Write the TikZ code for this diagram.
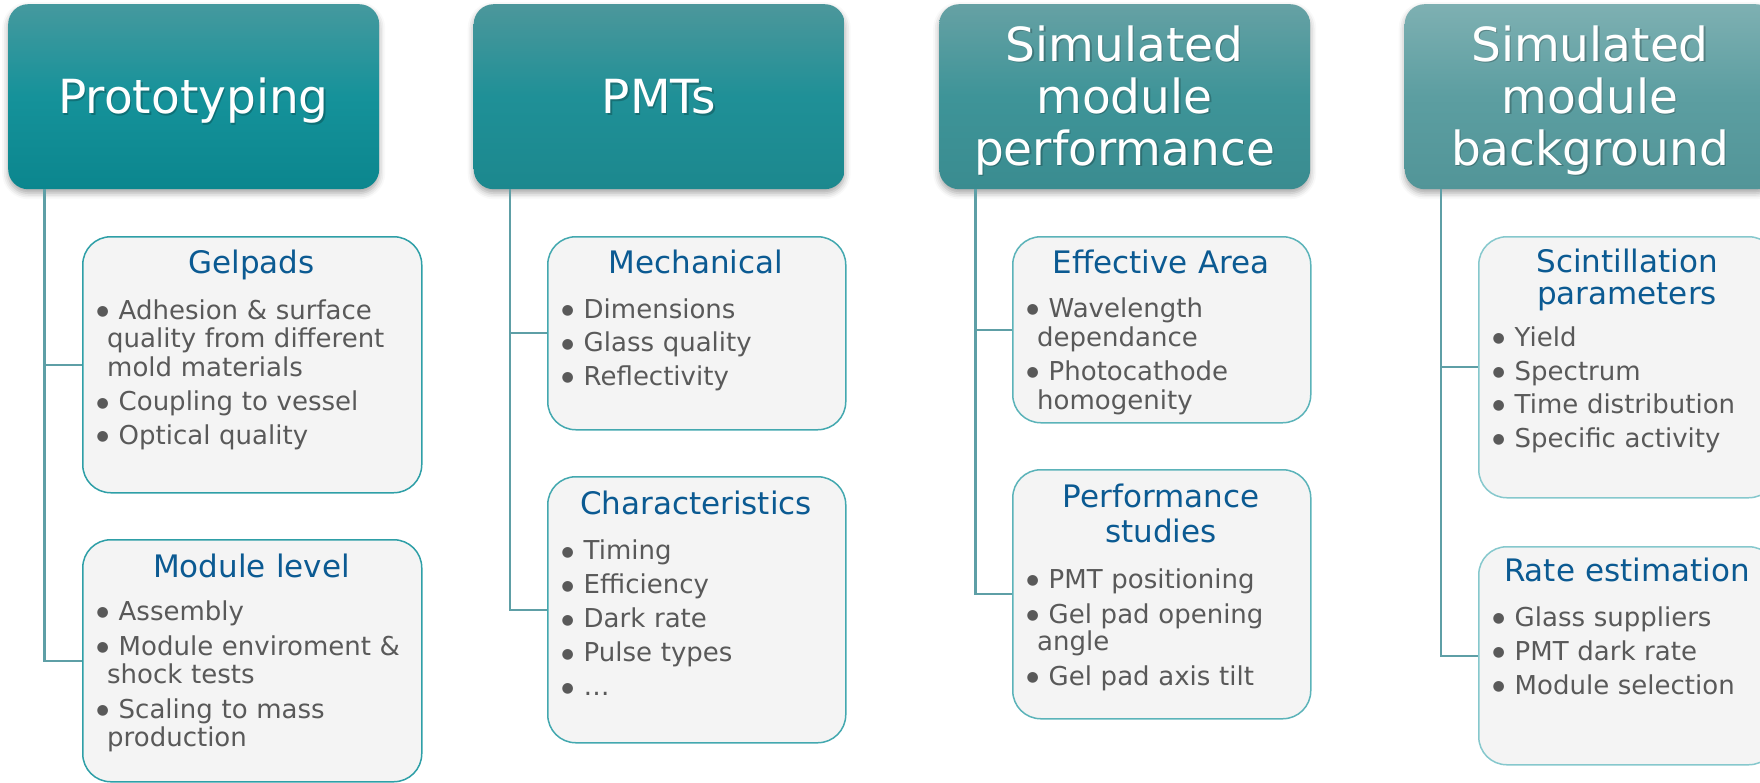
\documentclass[tikz,border=0pt]{standalone}
\usepackage{fontspec}
\setmainfont{DejaVu Sans}
\usetikzlibrary{calc,shadows.blur}

\definecolor{bodygray}{HTML}{595959}
\definecolor{headblue}{HTML}{0B5A92}
\definecolor{linkteal}{HTML}{5E9FA6}
\definecolor{panelbg}{HTML}{F4F4F4}
\definecolor{edgeA}{HTML}{2E9FA7}
\definecolor{edgeB}{HTML}{43A8AF}
\definecolor{edgeC}{HTML}{5BB3B9}
\definecolor{edgeD}{HTML}{86C8CD}
% header gradients, one set per column
\definecolor{hAtop}{HTML}{45999E}\definecolor{hAmid}{HTML}{15929A}\definecolor{hAbot}{HTML}{0B868E}
\definecolor{hBtop}{HTML}{4C979B}\definecolor{hBmid}{HTML}{1F9097}\definecolor{hBbot}{HTML}{1C888E}
\definecolor{hCtop}{HTML}{66A1A4}\definecolor{hCmid}{HTML}{3E9498}\definecolor{hCbot}{HTML}{3A8C90}
\definecolor{hDtop}{HTML}{7EB0B2}\definecolor{hDmid}{HTML}{5C9EA1}\definecolor{hDbot}{HTML}{529598}

% bullet and hanging indent for list items
\newcommand\bul{\makebox[22pt][l]{\raisebox{3.8pt}{\fontsize{14}{14}\selectfont ●}}}
\newcommand\cont{\hspace*{10.5pt}}

\begin{document}
\begin{tikzpicture}[x=1pt,y=-1pt,
  header/.style={rectangle, rounded corners=20pt, minimum width=371pt,
     minimum height=185pt, inner sep=0pt, anchor=north west, draw=none,
     blur shadow={shadow xshift=0pt, shadow yshift=-4pt,
       shadow blur radius=6pt, shadow opacity=35}},
  headtext/.style={text=white, font=\fontsize{47}{52}\selectfont,
     align=center, text width=371pt, inner sep=0pt, anchor=base},
  headshade/.style={headtext, text=black, text opacity=0.22},
  panel/.style={rectangle, rounded corners=28pt, fill=panelbg,
     line width=1.5pt, inner sep=0pt, anchor=north west},
  paneltitle/.style={text=headblue, font=\fontsize{31}{33}\selectfont,
     align=center, text width=298pt, inner sep=0pt, anchor=base},
  panelbody/.style={text=bodygray, font=\fontsize{26}{28.5}\selectfont,
     align=left, text width=400pt, inner sep=0pt, anchor=base west},
  link/.style={draw=linkteal, line width=2.2pt}
]
\useasboundingbox (0,0) rectangle (1760,782);

% ---------- column headers ----------
\node[header, top color=hAtop, bottom color=hAbot, middle color=hAmid] (h1) at (8,4) {};
\node[header, top color=hBtop, bottom color=hBbot, middle color=hBmid] (h2) at (473.5,4) {};
\node[header, top color=hCtop, bottom color=hCbot, middle color=hCmid] (h3) at (939,4) {};
\node[header, top color=hDtop, bottom color=hDbot, middle color=hDmid] (h4) at (1404.5,4) {};

% soft text shadow under the header labels
\node[headshade] (h1s) at (195,115) {Prototyping};
\node[headshade] (h2s) at (660.5,115) {PMTs};
\node[headshade] (h3s) at (1126,62.5) {Simulated\\module\\performance};
\node[headshade] (h4s) at (1591.5,62.5) {Simulated\\module\\background};

\node[headtext] (h1t) at (193.5,113.3) {Prototyping};
\node[headtext] (h2t) at (659,113.3) {PMTs};
\node[headtext] (h3t) at (1124.5,61) {Simulated\\module\\performance};
\node[headtext] (h4t) at (1590,61) {Simulated\\module\\background};

% ---------- panels ----------
\node[panel, draw=edgeA, minimum width=339pt, minimum height=256pt] (p11) at (82,236) {};
\node[panel, draw=edgeA, minimum width=339pt, minimum height=242pt] (p12) at (82,539) {};
\node[panel, draw=edgeB, minimum width=298pt, minimum height=193pt] (p21) at (547,236) {};
\node[panel, draw=edgeB, minimum width=298pt, minimum height=266pt] (p22) at (547,476) {};
\node[panel, draw=edgeC, minimum width=298pt, minimum height=186pt] (p31) at (1012,236) {};
\node[panel, draw=edgeC, minimum width=298pt, minimum height=249pt] (p32) at (1012,469) {};
\node[panel, draw=edgeD, minimum width=298pt, minimum height=261pt] (p41) at (1478,236) {};
\node[panel, draw=edgeD, minimum width=298pt, minimum height=218pt] (p42) at (1478,546) {};

% ---------- connectors ----------
\draw[link] ($(h1.south west)+(36.5,0)$) |- (p11.west);
\draw[link] ($(h1.south west)+(36.5,0)$) |- (p12.west);
\draw[link] ($(h2.south west)+(36.5,0)$) |- (p21.west);
\draw[link] ($(h2.south west)+(36.5,0)$) |- (p22.west);
\draw[link] ($(h3.south west)+(36.5,0)$) |- (p31.west);
\draw[link] ($(h3.south west)+(36.5,0)$) |- (p32.west);
\draw[link] ($(h4.south west)+(36.5,0)$) |- (p41.west);
\draw[link] ($(h4.south west)+(36.5,0)$) |- (p42.west);

% ---------- panel titles ----------
\node[paneltitle, text width=339pt] (p11t) at (251.5,273) {Gelpads};
\node[paneltitle, text width=339pt] (p12t) at (251.5,577.3) {Module level};
\node[paneltitle] (p21t) at (696,273.5) {Mechanical};
\node[paneltitle] (p22t) at (696,514.5) {Characteristics};
\node[paneltitle] (p31t) at (1161,273.5) {Effective Area};
\node[paneltitle, font=\fontsize{31}{35}\selectfont] (p32t) at (1161,507.9) {Performance\\studies};
\node[paneltitle, font=\fontsize{31}{32}\selectfont] (p41t) at (1627,272.3) {Scintillation\\parameters};
\node[paneltitle] (p42t) at (1627,581.7) {Rate estimation};

% ---------- panel bullet lists ----------
\node[panelbody] (p11b) at (96.5,319.3) {\bul Adhesion \& surface\\
  \cont quality from different\\ \cont mold materials\\[6pt]
  \bul Coupling to vessel\\[5pt] \bul Optical quality};
\node[panelbody] (p12b) at (96.5,620.7) {\bul Assembly\\[6pt]
  \bul Module enviroment \&\\ \cont shock tests\\[6pt]
  \bul Scaling to mass\\ \cont production};
\node[panelbody] (p21b) at (561.5,318.4) {\bul Dimensions\\[5pt]
  \bul Glass quality\\[5pt] \bul Reflectivity};
\node[panelbody] (p22b) at (561.5,559.8) {\bul Timing\\[5.5pt] \bul Efficiency\\[5.5pt]
  \bul Dark rate\\[5.5pt] \bul Pulse types\\[5.5pt] \bul …};
\node[panelbody] (p31b) at (1026.5,317.7) {\bul Wavelength\\ \cont dependance\\[6pt]
  \bul Photocathode\\ \cont homogenity};
\node[panelbody] (p32b) at (1026.5,588) {\bul PMT positioning\\[6.5pt]
  \bul Gel pad opening\\[-1.5pt] \cont angle\\[6.5pt] \bul Gel pad axis tilt};
\node[panelbody] (p41b) at (1492.5,346.7) {\bul Yield\\[5pt] \bul Spectrum\\[5pt]
  \bul Time distribution\\[5pt] \bul Specific activity};
\node[panelbody] (p42b) at (1492.5,626.7) {\bul Glass suppliers\\[5.5pt]
  \bul PMT dark rate\\[5pt] \bul Module selection};
\end{tikzpicture}
\end{document}
